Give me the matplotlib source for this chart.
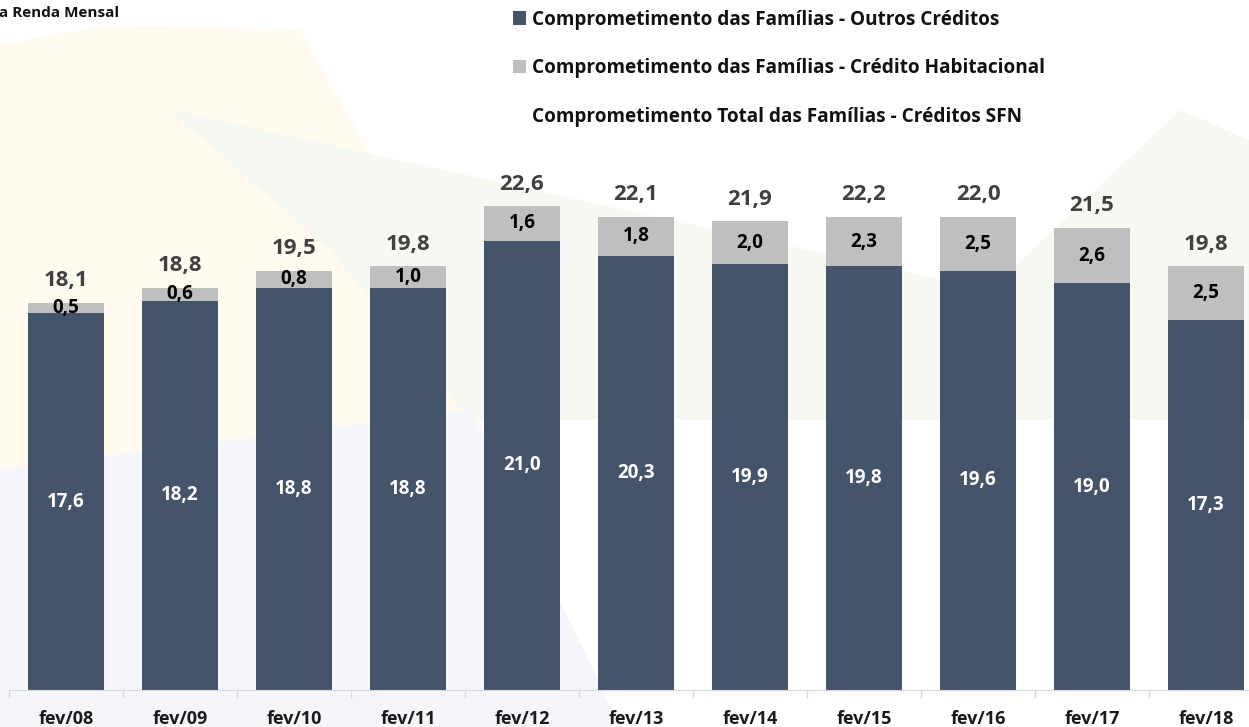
import matplotlib
matplotlib.use("Agg")
import matplotlib.pyplot as plt
from matplotlib.patches import Patch, Polygon

# dados (% da renda mensal)
meses = ["fev/08", "fev/09", "fev/10", "fev/11", "fev/12", "fev/13",
         "fev/14", "fev/15", "fev/16", "fev/17", "fev/18"]
outros_creditos = [17.6, 18.2, 18.8, 18.8, 21.0, 20.3, 19.9, 19.8, 19.6, 19.0, 17.3]
credito_habitacional = [0.5, 0.6, 0.8, 1.0, 1.6, 1.8, 2.0, 2.3, 2.5, 2.6, 2.5]
total_sfn = [18.1, 18.8, 19.5, 19.8, 22.6, 22.1, 21.9, 22.2, 22.0, 21.5, 19.8]

nomes = ["Comprometimento das Famílias - Outros Créditos",
         "Comprometimento das Famílias - Crédito Habitacional",
         "Comprometimento Total das Famílias - Créditos SFN"]

cor_escura = "#44546A"
cor_cinza = "#BFBFBF"

plt.rcParams["font.family"] = ["Open Sans", "DejaVu Sans"]
plt.rcParams["font.weight"] = "bold"

W, H = 1249, 727
fig = plt.figure(figsize=(W / 100, H / 100), dpi=100)
fig.patch.set_facecolor("white")


def px(pts):
    return [(x / W, 1 - y / H) for x, y in pts]


# marca d'agua bem clara no fundo
fundo = [
    ([(0, 45), (110, 25), (300, 30), (470, 330), (520, 727), (0, 727)], "#FEFAEE"),
    ([(170, 110), (990, 290), (1180, 110), (1249, 140), (1249, 420), (470, 420), (330, 250)], "#F6F9F2"),
    ([(0, 470), (470, 410), (620, 727), (0, 727)], "#F4F6FC"),
]
for pts, c in fundo:
    fig.patches.append(Polygon(px(pts), closed=True, transform=fig.transFigure,
                               facecolor=c, edgecolor="none", zorder=-10))

ax = fig.add_axes([9 / W, 37 / H, 1254 / W, 690 / H])
ax.set_facecolor("none")

x = list(range(len(meses)))
largura = 0.66
ax.bar(x, outros_creditos, largura, color=cor_escura, label=nomes[0], zorder=2)
ax.bar(x, credito_habitacional, largura, bottom=outros_creditos, color=cor_cinza,
       label=nomes[1], zorder=2)

for i in x:
    ax.text(i, outros_creditos[i] / 2, f"{outros_creditos[i]:.1f}".replace(".", ","),
            ha="center", va="center", color="white", fontsize=13.5, fontweight="bold")
    ax.text(i, outros_creditos[i] + credito_habitacional[i] / 2,
            f"{credito_habitacional[i]:.1f}".replace(".", ","),
            ha="center", va="center", color="black", fontsize=13.5, fontweight="bold")
    topo = outros_creditos[i] + credito_habitacional[i]
    ax.annotate(f"{total_sfn[i]:.1f}".replace(".", ","), (i, topo),
                xytext=(0, 16), textcoords="offset points",
                ha="center", va="center", color="#404040", fontsize=16, fontweight="bold")

ax.set_xlim(-0.5, len(meses) - 0.5)
ax.set_ylim(0, 690 / 21.4)
ax.set_yticks([])
ax.set_xticks(x)
ax.set_xticklabels(meses, fontsize=13, fontweight="bold", color="#1a1a1a")
ax.set_xticks([i + 0.5 for i in range(-1, len(meses))], minor=True)
ax.tick_params(axis="x", which="major", length=0, pad=14.5)
ax.tick_params(axis="x", which="minor", length=6, color="#D9D9D9", width=1)
for s in ["top", "right", "left"]:
    ax.spines[s].set_visible(False)
ax.spines["bottom"].set_color("#D9D9D9")

handles = [Patch(facecolor=cor_escura, edgecolor="none"),
           Patch(facecolor=cor_cinza, edgecolor="none"),
           Patch(facecolor="none", edgecolor="none")]
leg = fig.legend(handles, nomes, loc="upper left", bbox_to_anchor=(505 / W, 1 - 2 / H),
                 frameon=False, fontsize=13.7, handlelength=0.7, handleheight=0.7,
                 handletextpad=0.3, labelspacing=1.5, borderaxespad=0)
for t in leg.get_texts():
    t.set_fontweight("bold")
    t.set_color("#111111")

fig.text(-1 / W, 1 - 13 / H, "a Renda Mensal", ha="left", va="center",
         fontsize=11, fontweight="bold", color="#111111")

fig.savefig("out.png", dpi=100)
